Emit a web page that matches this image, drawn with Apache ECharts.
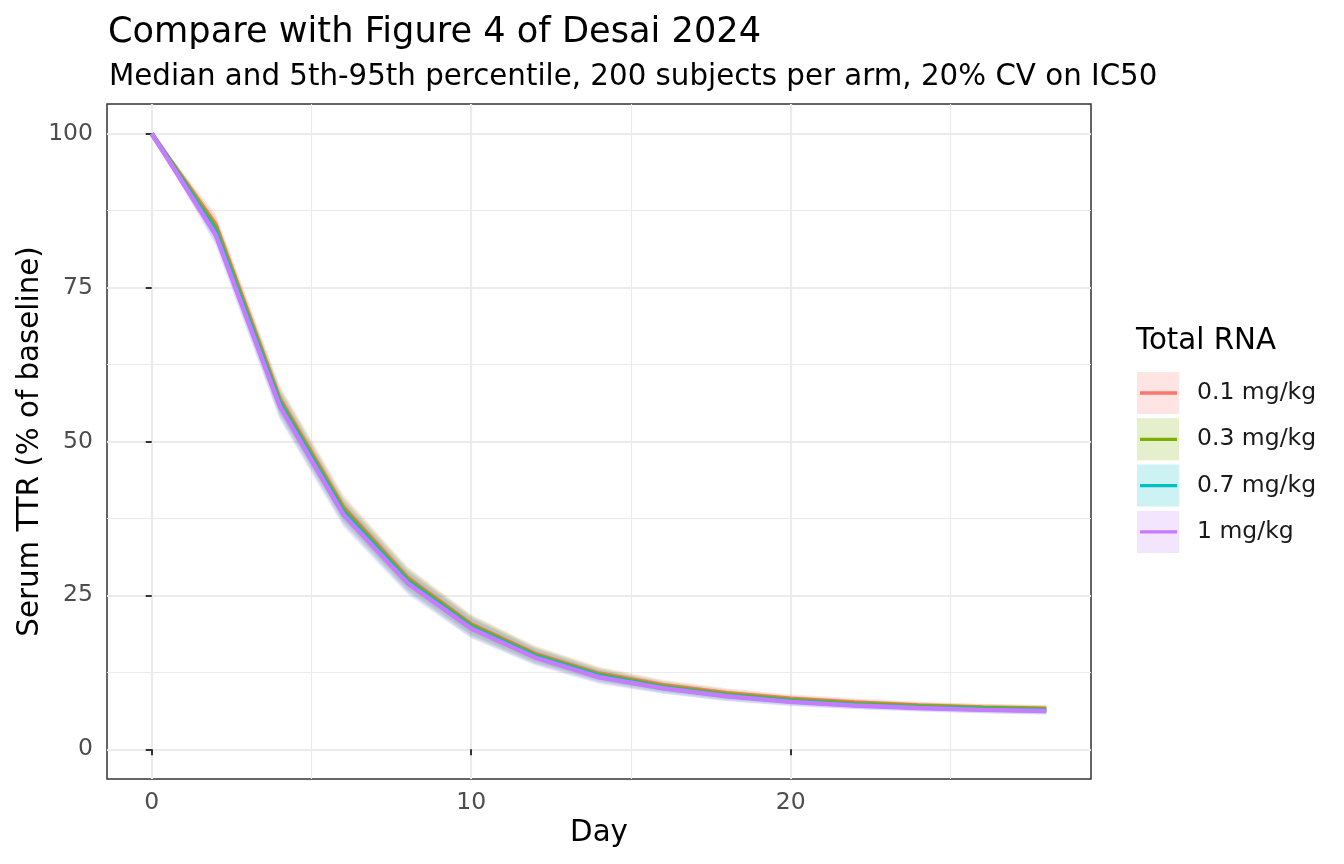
<!DOCTYPE html>
<html>
<head>
<meta charset="utf-8">
<script src="https://cdn.jsdelivr.net/npm/echarts@6/dist/echarts.min.js"></script>
<style>
  html, body { margin: 0; padding: 0; background: #fff; }
  #main { width: 1344px; height: 864px; }
</style>
</head>
<body>
<div id="main"></div>
<script>
var days = [0, 2, 4, 6, 8, 10, 12, 14, 16, 18, 20, 22, 24, 26, 28];
var doses = ['0.1 mg/kg', '0.3 mg/kg', '0.7 mg/kg', '1 mg/kg'];
var colors = ['#F8766D', '#7CAE00', '#00BFC4', '#C77CFF'];

// median per arm
var med01 = [100, 85.2, 57.0, 39.3, 27.9, 20.3, 15.5, 12.3, 10.4, 9.1, 8.2, 7.6, 7.1, 6.8, 6.6];
var med03 = [100, 84.7, 56.6, 38.9, 27.6, 20.1, 15.3, 12.1, 10.2, 8.9, 8.0, 7.4, 7.0, 6.7, 6.5];
var med07 = [100, 84.1, 56.2, 38.5, 27.3, 19.8, 15.1, 11.9, 10.0, 8.7, 7.8, 7.2, 6.8, 6.5, 6.3];
var med10 = [100, 83.6, 55.8, 38.1, 27.0, 19.6, 14.9, 11.7, 9.9, 8.6, 7.7, 7.1, 6.7, 6.4, 6.2];

// 5th percentile
var lo01 = [100, 83.4, 54.8, 37.3, 26.1, 18.7, 14.2, 11.2, 9.5, 8.3, 7.5, 6.9, 6.5, 6.2, 6.0];
var lo03 = [100, 82.9, 54.4, 36.9, 25.8, 18.5, 14.0, 11.0, 9.3, 8.1, 7.3, 6.8, 6.4, 6.1, 5.9];
var lo07 = [100, 82.3, 54.0, 36.5, 25.5, 18.2, 13.8, 10.8, 9.1, 7.9, 7.1, 6.6, 6.2, 5.9, 5.7];
var lo10 = [100, 81.8, 53.6, 36.1, 25.2, 18.0, 13.6, 10.6, 9.0, 7.8, 7.0, 6.5, 6.1, 5.8, 5.6];

// 95th percentile
var hi01 = [100, 87.0, 59.2, 41.3, 29.7, 21.9, 16.8, 13.4, 11.3, 9.9, 8.9, 8.3, 7.7, 7.4, 7.2];
var hi03 = [100, 86.5, 58.8, 40.9, 29.4, 21.7, 16.6, 13.2, 11.1, 9.7, 8.7, 8.1, 7.6, 7.3, 7.1];
var hi07 = [100, 85.9, 58.4, 40.5, 29.1, 21.4, 16.4, 13.0, 10.9, 9.5, 8.5, 7.9, 7.4, 7.1, 6.9];
var hi10 = [100, 85.4, 58.0, 40.1, 28.8, 21.2, 16.2, 12.8, 10.8, 9.4, 8.4, 7.8, 7.3, 7.0, 6.8];

var xMajor = [0, 10, 20];
var xMinor = [5, 15, 25];
var yMajor = [0, 25, 50, 75, 100];
var yMinor = [12.5, 37.5, 62.5, 87.5];

var meds = [med01, med03, med07, med10];
var los = [lo01, lo03, lo07, lo10];
var his = [hi01, hi03, hi07, hi10];

var FONT = 'DejaVu Sans';
var myChart = echarts.init(document.getElementById('main'));

function ribbon(k) {
    return {
        type: 'custom',
        name: doses[k],
        silent: true,
        data: days.map(function (d, i) { return [d, los[k][i], his[k][i]]; }),
        encode: { x: 0, y: [1, 2] },
        renderItem: function (params, api) {
            if (params.dataIndex !== 0) return;
            var pts = [];
            for (var i = 0; i < days.length; i++) pts.push(api.coord([days[i], his[k][i]]));
            for (var j = days.length - 1; j >= 0; j--) pts.push(api.coord([days[j], los[k][j]]));
            return {
                type: 'polygon',
                shape: { points: pts },
                style: { fill: colors[k], opacity: 0.2 }
            };
        }
    };
}

function line(k) {
    return {
        type: 'line',
        name: doses[k],
        data: days.map(function (d, i) { return [d, meds[k][i]]; }),
        symbol: 'none',
        lineStyle: { color: colors[k], width: 4.5 },
        itemStyle: { color: colors[k] }
    };
}

var series = [];
for (var k = 0; k < 4; k++) series.push(ribbon(k));
for (var k2 = 0; k2 < 4; k2++) series.push(line(k2));

// legend drawn by hand (ggplot style keys: light fill box + line)
var graphics = [{
    type: 'text', left: 1136, top: 327,
    style: { text: 'Total RNA', fontSize: 29.3, fontFamily: FONT, fill: '#000' }
}];
doses.forEach(function (name, i) {
    var y0 = 372 + i * 46.3;
    graphics.push({
        type: 'rect', shape: { x: 1137, y: y0, width: 42, height: 42 },
        style: { fill: colors[i], opacity: 0.2 }
    });
    graphics.push({
        type: 'line', shape: { x1: 1140, y1: y0 + 21, x2: 1177, y2: y0 + 21 },
        style: { stroke: colors[i], lineWidth: 3.3 }
    });
    graphics.push({
        type: 'text', x: 1197, y: y0 + 21,
        style: { text: name, fontSize: 23.5, fontFamily: FONT, fill: '#1A1A1A', verticalAlign: 'middle' }
    });
});

var axisCommon = {
    type: 'value',
    axisLine: { show: false }
};

var option = {
    animation: false,
    backgroundColor: '#fff',
    textStyle: { fontFamily: FONT },
    title: [
        { text: 'Compare with Figure 4 of Desai 2024', left: 103, top: 10,
          textStyle: { fontSize: 35.2, fontWeight: 'normal', color: '#000', fontFamily: FONT } },
        { text: 'Median and 5th-95th percentile, 200 subjects per arm, 20% CV on IC50', left: 104, top: 58,
          textStyle: { fontSize: 29.3, fontWeight: 'normal', color: '#000', fontFamily: FONT } }
    ],
    grid: {
        left: 107, right: 253, top: 104, bottom: 85,
        show: true, borderColor: '#333', borderWidth: 1.5, backgroundColor: '#fff'
    },
    xAxis: [
        Object.assign({}, axisCommon, {
            min: -1.4, max: 29.4, position: 'bottom',
            name: 'Day', nameLocation: 'middle', nameGap: 40, nameMoveOverlap: false,
            nameTextStyle: { fontSize: 29.3, color: '#000', fontFamily: FONT },
            axisTick: { show: true, customValues: xMajor, length: 6, lineStyle: { color: '#333', width: 2 } },
            axisLabel: { customValues: xMajor, color: '#4D4D4D', fontSize: 23.5, margin: 12, fontFamily: FONT },
            splitLine: { show: true, lineStyle: { color: '#EBEBEB', width: 2.2 } }
        }),
        Object.assign({}, axisCommon, {
            min: -1.4, max: 29.4, position: 'top',
            axisTick: { show: false, customValues: xMinor },
            axisLabel: { show: false, customValues: xMinor },
            splitLine: { show: true, lineStyle: { color: '#EBEBEB', width: 1.1 } }
        })
    ],
    yAxis: [
        Object.assign({}, axisCommon, {
            min: -4.83, max: 104.83, position: 'left',
            name: 'Serum TTR (% of baseline)', nameLocation: 'middle', nameGap: 62, nameMoveOverlap: false,
            nameTextStyle: { fontSize: 29.3, color: '#000', fontFamily: FONT },
            axisTick: { show: true, customValues: yMajor, length: 6, lineStyle: { color: '#333', width: 2 } },
            axisLabel: { customValues: yMajor, color: '#4D4D4D', fontSize: 23.5, margin: 14, fontFamily: FONT },
            splitLine: { show: true, lineStyle: { color: '#EBEBEB', width: 2.2 } }
        }),
        Object.assign({}, axisCommon, {
            min: -4.83, max: 104.83, position: 'right',
            axisTick: { show: false, customValues: yMinor },
            axisLabel: { show: false, customValues: yMinor },
            splitLine: { show: true, lineStyle: { color: '#EBEBEB', width: 1.1 } }
        })
    ],
    graphic: graphics,
    series: series
};

myChart.setOption(option);
window.addEventListener('resize', myChart.resize);
</script>
</body>
</html>
